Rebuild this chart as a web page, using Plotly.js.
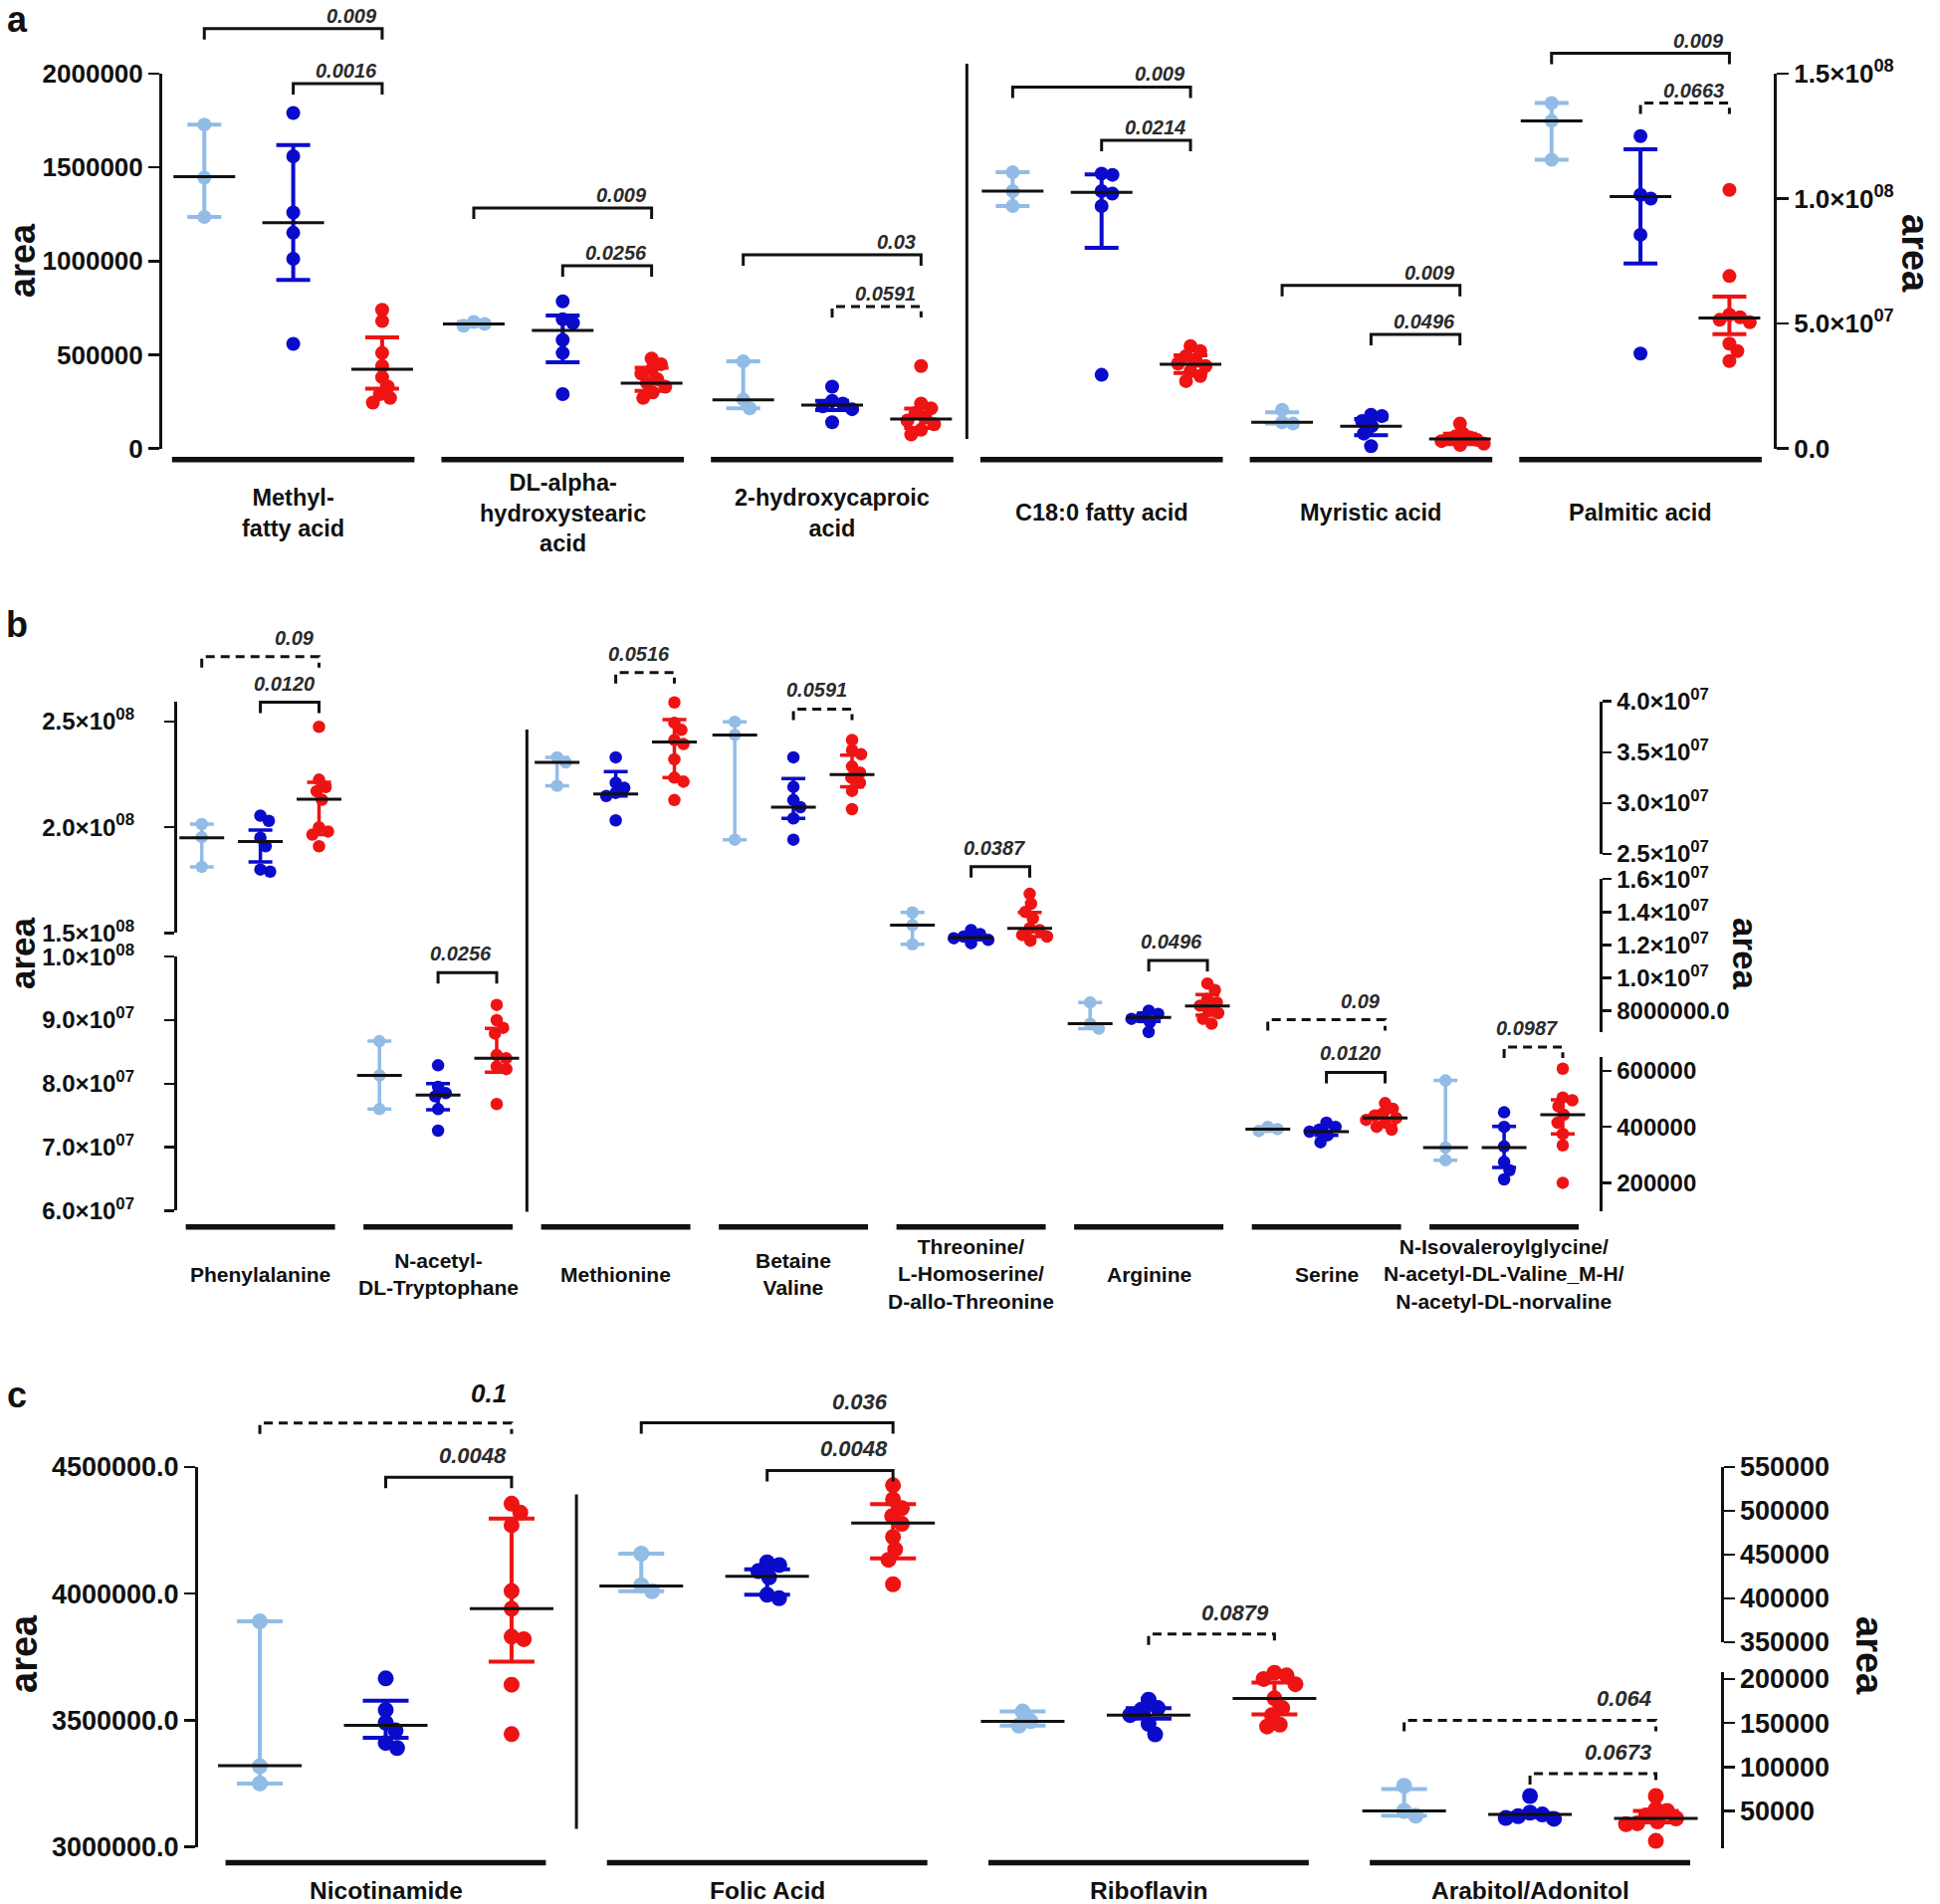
<!DOCTYPE html>
<html>
<head>
<meta charset="utf-8">
<script src="https://cdn.plot.ly/plotly-3.0.1.min.js"></script>
<style>
html,body{margin:0;padding:0;background:#fff;}
#chart{width:1949px;height:1913px;}
</style>
</head>
<body>
<div id="chart"></div>
<script>
// ===================== DATA =====================
const panelLetters = ['a', 'b', 'c'];
const axisTitle = 'area';

// ---- panel a ----
const aCategories = ['Methyl-<br>fatty acid', 'DL-alpha-<br>hydroxystearic<br>acid', '2-hydroxycaproic<br>acid', 'C18:0 fatty acid', 'Myristic acid', 'Palmitic acid'];
const aScaleOf = ['L', 'L', 'L', 'R', 'R', 'R'];
const aLight = [
  [1728000, 1445000, 1235000],
  [675000, 665000, 655000],
  [465000, 262000, 215000],
  [1.105e8, 1.03e8, 9.7e7],
  [1.55e7, 1.05e7, 1.0e7],
  [1.382e8, 1.311e8, 1.155e8]
];
const aBlue = [
  [1790000, 1559000, 1259000, 1151000, 1012000, 558000],
  [785000, 690000, 670000, 580000, 510000, 290000],
  [330000, 255000, 240000, 225000, 210000, 140000],
  [1.10e8, 1.095e8, 1.03e8, 1.02e8, 9.7e7, 2.95e7],
  [1.35e7, 1.3e7, 1.1e7, 9e6, 6e6, 1e6],
  [1.25e8, 1.015e8, 1.0e8, 8.55e7, 3.8e7]
];
const aRed = [
  [740000, 680000, 510000, 440000, 380000, 330000, 290000, 270000, 245000],
  [480000, 450000, 420000, 400000, 370000, 350000, 330000, 300000, 270000],
  [440000, 240000, 215000, 190000, 165000, 150000, 130000, 100000, 75000],
  [4.1e7, 3.9e7, 3.7e7, 3.5e7, 3.4e7, 3.3e7, 3.1e7, 2.9e7, 2.7e7],
  [1.0e7, 6e6, 5e6, 4.5e6, 4e6, 3.5e6, 3e6, 2e6, 1.5e6],
  [1.035e8, 6.9e7, 5.35e7, 5.25e7, 5.15e7, 5.05e7, 4.2e7, 3.9e7, 3.5e7]
];
// [median, lower, upper]
const aLightStats = [[1450000, 1235000, 1728000], [665000, 655000, 675000], [260000, 215000, 465000], [1.03e8, 9.7e7, 1.105e8], [1.05e7, 1.0e7, 1.45e7], [1.311e8, 1.155e8, 1.382e8]];
const aBlueStats = [[1204000, 900000, 1619000], [630000, 460000, 709000], [232000, 205000, 255000], [1.025e8, 8.03e7, 1.097e8], [8.9e6, 5.4e6, 1.18e7], [1.008e8, 7.4e7, 1.197e8]];
const aRedStats = [[423000, 320000, 593000], [349000, 308000, 431000], [157000, 110000, 213000], [3.37e7, 3.02e7, 3.73e7], [3.9e6, 1.8e6, 6e6], [5.22e7, 4.58e7, 6.08e7]];
// [category, fromGroup, toGroup, height, p-value, dashed]
const aBrackets = [
  [0, 0, 2, 2240000, '0.009', false],
  [0, 1, 2, 1946000, '0.0016', false],
  [1, 0, 2, 1283000, '0.009', false],
  [1, 1, 2, 975000, '0.0256', false],
  [2, 0, 2, 1033000, '0.03', false],
  [2, 1, 2, 757000, '0.0591', true],
  [3, 0, 2, 1.446e8, '0.009', false],
  [3, 1, 2, 1.233e8, '0.0214', false],
  [4, 0, 2, 6.53e7, '0.009', false],
  [4, 1, 2, 4.57e7, '0.0496', false],
  [5, 0, 2, 1.581e8, '0.009', false],
  [5, 1, 2, 1.382e8, '0.0663', true]
];
const aLeftTicks = [0, 500000, 1000000, 1500000, 2000000];
const aLeftTickText = ['0', '500000', '1000000', '1500000', '2000000'];
const aRightTicks = [0, 5e7, 1e8, 1.5e8];
const aRightTickText = ['0.0', '5.0×10<sup>07</sup>', '1.0×10<sup>08</sup>', '1.5×10<sup>08</sup>'];

// ---- panel b ----
const bCategories = ['Phenylalanine', 'N-acetyl-<br>DL-Tryptophane', 'Methionine', 'Betaine<br>Valine', 'Threonine/<br>L-Homoserine/<br>D-allo-Threonine', 'Arginine', 'Serine', 'N-Isovaleroylglycine/<br>N-acetyl-DL-Valine_M-H/<br>N-acetyl-DL-norvaline'];
const bScaleOf = ['LU', 'LL', 'RT', 'RT', 'RM', 'RM', 'RB', 'RB'];
const bLight = [
  [2.015e8, 1.953e8, 1.813e8],
  [8.67e7, 8.13e7, 7.6e7],
  [3.45e7, 3.4e7, 3.17e7],
  [3.8e7, 3.67e7, 2.64e7],
  [1.397e7, 1.32e7, 1.203e7],
  [8.5e6, 7.2e6, 6.9e6],
  [400000, 392000, 385000],
  [566000, 326000, 281000]
];
const bBlue = [
  [2.055e8, 2.03e8, 1.95e8, 1.91e8, 1.8e8, 1.79e8],
  [8.29e7, 7.95e7, 7.85e7, 7.8e7, 7.6e7, 7.26e7],
  [3.45e7, 3.2e7, 3.15e7, 3.1e7, 3.07e7, 2.83e7],
  [3.45e7, 3.16e7, 3.03e7, 2.96e7, 2.85e7, 2.64e7],
  [1.29e7, 1.265e7, 1.25e7, 1.24e7, 1.23e7, 1.21e7],
  [8.0e6, 7.8e6, 7.6e6, 7.5e6, 7.3e6, 6.7e6],
  [415000, 400000, 390000, 383000, 370000, 345000],
  [452000, 400000, 330000, 275000, 245000, 212000]
];
const bRed = [
  [2.475e8, 2.225e8, 2.19e8, 2.17e8, 2.13e8, 2.0e8, 1.98e8, 1.965e8, 1.91e8],
  [9.24e7, 9.0e7, 8.88e7, 8.79e7, 8.45e7, 8.4e7, 8.27e7, 8.23e7, 7.68e7],
  [3.99e7, 3.79e7, 3.72e7, 3.62e7, 3.58e7, 3.43e7, 3.25e7, 3.21e7, 3.03e7],
  [3.62e7, 3.52e7, 3.48e7, 3.36e7, 3.3e7, 3.25e7, 3.2e7, 3.12e7, 2.94e7],
  [1.51e7, 1.45e7, 1.4e7, 1.36e7, 1.3e7, 1.29e7, 1.26e7, 1.25e7, 1.225e7],
  [9.65e6, 9.25e6, 8.7e6, 8.5e6, 8.3e6, 8.0e6, 7.85e6, 7.5e6, 7.2e6],
  [485000, 465000, 450000, 440000, 432000, 425000, 415000, 400000, 390000],
  [608000, 505000, 495000, 473000, 443000, 415000, 375000, 334000, 200000]
];
const bLightStats = [[1.95e8, 1.813e8, 2.015e8], [8.13e7, 7.6e7, 8.67e7], [3.4e7, 3.17e7, 3.45e7], [3.67e7, 2.64e7, 3.8e7], [1.32e7, 1.203e7, 1.397e7], [7.2e6, 6.9e6, 8.5e6], [392000, 385000, 400000], [326000, 281000, 566000]];
const bBlueStats = [[1.932e8, 1.836e8, 1.987e8], [7.82e7, 7.59e7, 8.0e7], [3.09e7, 3.07e7, 3.31e7], [2.96e7, 2.85e7, 3.24e7], [1.244e7, 1.23e7, 1.26e7], [7.58e6, 7.35e6, 7.85e6], [383000, 370000, 400000], [326000, 255000, 402000]];
const bRedStats = [[2.133e8, 1.965e8, 2.212e8], [8.4e7, 8.18e7, 8.87e7], [3.6e7, 3.25e7, 3.82e7], [3.28e7, 3.16e7, 3.47e7], [1.3e7, 1.25e7, 1.397e7], [8.28e6, 7.72e6, 8.97e6], [432000, 408000, 456000], [443000, 375000, 497000]];
const bBrackets = [
  [0, 0, 2, 2.807e8, '0.09', true],
  [0, 1, 2, 2.591e8, '0.0120', false],
  [1, 1, 2, 9.75e7, '0.0256', false],
  [2, 1, 2, 4.284e7, '0.0516', true],
  [3, 1, 2, 3.924e7, '0.0591', true],
  [4, 1, 2, 1.675e7, '0.0387', false],
  [5, 1, 2, 1.105e7, '0.0496', false],
  [6, 0, 2, 783000, '0.09', true],
  [6, 1, 2, 595000, '0.0120', false],
  [7, 1, 2, 685000, '0.0987', true]
];
const bLeftUpperTicks = [1.5e8, 2e8, 2.5e8];
const bLeftUpperTickText = ['1.5×10<sup>08</sup>', '2.0×10<sup>08</sup>', '2.5×10<sup>08</sup>'];
const bLeftLowerTicks = [6e7, 7e7, 8e7, 9e7, 1e8];
const bLeftLowerTickText = ['6.0×10<sup>07</sup>', '7.0×10<sup>07</sup>', '8.0×10<sup>07</sup>', '9.0×10<sup>07</sup>', '1.0×10<sup>08</sup>'];
const bRightTopTicks = [2.5e7, 3e7, 3.5e7, 4e7];
const bRightTopTickText = ['2.5×10<sup>07</sup>', '3.0×10<sup>07</sup>', '3.5×10<sup>07</sup>', '4.0×10<sup>07</sup>'];
const bRightMidTicks = [8e6, 1e7, 1.2e7, 1.4e7, 1.6e7];
const bRightMidTickText = ['8000000.0', '1.0×10<sup>07</sup>', '1.2×10<sup>07</sup>', '1.4×10<sup>07</sup>', '1.6×10<sup>07</sup>'];
const bRightBottomTicks = [200000, 400000, 600000];
const bRightBottomTickText = ['200000', '400000', '600000'];

// ---- panel c ----
const cCategories = ['Nicotinamide', 'Folic Acid', 'Riboflavin', 'Arabitol/Adonitol'];
const cScaleOf = ['L', 'RT', 'RB', 'RB'];
const cLight = [
  [3.89e6, 3.318e6, 3.25e6],
  [451000, 415000, 408000],
  [163000, 152000, 147000],
  [78600, 50000, 44600]
];
const cBlue = [
  [3.665e6, 3.54e6, 3.49e6, 3.46e6, 3.41e6, 3.39e6],
  [441000, 438000, 431000, 424000, 404000, 400000],
  [176500, 167000, 165000, 159000, 149000, 137000],
  [67000, 48000, 46000, 44000, 42000, 41000]
];
const cRed = [
  [4.355e6, 4.32e6, 4.27e6, 4.01e6, 3.94e6, 3.83e6, 3.82e6, 3.64e6, 3.445e6],
  [529000, 513000, 503000, 494000, 485000, 470000, 456000, 444000, 416000],
  [207000, 204000, 200000, 194000, 178000, 167000, 159000, 148000, 146000],
  [67000, 52000, 50000, 45000, 41500, 38000, 36000, 35000, 16000]
];
const cLightStats = [[3.32e6, 3.25e6, 3.89e6], [414000, 408000, 451000], [151800, 147000, 163000], [50000, 44600, 75000]];
const cBlueStats = [[3.48e6, 3.43e6, 3.577e6], [425000, 404000, 433000], [158900, 155000, 166700], [46000, 43000, 47500]];
const cRedStats = [[3.94e6, 3.731e6, 4.296e6], [486000, 445600, 507500], [177700, 159700, 196000], [41500, 37000, 50000]];
const cBrackets = [
  [0, 0, 2, 4.674e6, '0.1', true],
  [0, 1, 2, 4.459e6, '0.0048', false],
  [1, 0, 2, 600400, '0.036', false],
  [1, 1, 2, 546000, '0.0048', false],
  [2, 1, 2, 251000, '0.0879', true],
  [3, 0, 2, 153000, '0.064', true],
  [3, 1, 2, 92400, '0.0673', true]
];
const cLeftTicks = [3e6, 3.5e6, 4e6, 4.5e6];
const cLeftTickText = ['3000000.0', '3500000.0', '4000000.0', '4500000.0'];
const cRightTopTicks = [350000, 400000, 450000, 500000, 550000];
const cRightTopTickText = ['350000', '400000', '450000', '500000', '550000'];
const cRightBottomTicks = [50000, 100000, 150000, 200000];
const cRightBottomTickText = ['50000', '100000', '150000', '200000'];

// ===================== BUILD =====================
const W = 1949, H = 1913;
const FONT = '"Liberation Sans", Arial, Helvetica, sans-serif';
const GROUP_COLORS = ['#92BCE6', '#0B0BCB', '#EE1414'];
const OFF = [-0.33, 0, 0.33];
const INK = '#111111';

function lin(v1, p1, v2, p2) {
  const k = (p2 - p1) / (v2 - v1);
  return { k: k, px: v => p1 + (v - v1) * k, val: p => v1 + (p - p1) / k };
}
const pf = p => 1 - p / H;

const traces = [];
const annotations = [];
const shapes = [];
const layout = {
  width: W, height: H,
  margin: { l: 0, r: 0, t: 0, b: 0, pad: 0 },
  paper_bgcolor: '#ffffff', plot_bgcolor: 'rgba(0,0,0,0)',
  showlegend: false, hovermode: false,
  font: { family: FONT, color: INK }
};
let yN = 0;
function nextY() { yN++; return yN === 1 ? 'y' : 'y' + yN; }
function axKey(id) { return id.length === 1 ? id + 'axis' : id[0] + 'axis' + id.slice(1); }

// simple beeswarm: horizontal pixel offsets so dots do not fully overlap
function swarm(py, d, maxSpread) {
  const order = py.map((p, i) => i).sort((a, b) => py[a] - py[b]);
  const placed = [];
  const out = new Array(py.length).fill(0);
  order.forEach(i => {
    const y = py[i];
    const cands = [0];
    placed.forEach(p => {
      const dy = Math.abs(p.y - y);
      if (dy < d) { const dx = Math.sqrt(d * d - dy * dy); cands.push(p.x + dx, p.x - dx); }
    });
    cands.sort((a, b) => (Math.abs(a) - Math.abs(b)) || (b - a));
    let best = 0;
    for (const c of cands) {
      if (placed.every(p => (p.x - c) * (p.x - c) + (p.y - y) * (p.y - y) >= d * d - 0.01)) { best = c; break; }
    }
    placed.push({ x: best, y: y });
    out[i] = best;
  });
  const m = Math.max.apply(null, out.map(Math.abs));
  if (m > maxSpread) return out.map(o => o * maxSpread / m);
  return out;
}

function buildPanel(P) {
  const scaleAxes = {};
  let firstData = null;
  Object.keys(P.scales).forEach(name => {
    const S = P.scales[name];
    const s = lin(S.ref[0], S.ref[1], S.ref[2], S.ref[3]);
    const dataId = nextY();
    const visId = nextY();
    if (!firstData) firstData = dataId;
    layout[axKey(dataId)] = {
      domain: [pf(P.bottom), pf(P.top)],
      range: [s.val(P.bottom), s.val(P.top)],
      visible: false, anchor: P.xId, fixedrange: true
    };
    layout[axKey(visId)] = {
      domain: [pf(S.seg[1]), pf(S.seg[0])],
      range: [s.val(S.seg[1]), s.val(S.seg[0])],
      anchor: 'free', position: S.xpos / W, side: S.side,
      showline: true, linecolor: INK, linewidth: 3,
      ticks: 'outside', ticklen: S.ticklen, tickwidth: 2.5, tickcolor: INK,
      tickmode: 'array', tickvals: S.tickvals, ticktext: S.ticktext,
      tickfont: { family: FONT, size: S.size, color: INK, weight: 'bold' },
      ticklabelstandoff: S.standoff || 0,
      showgrid: false, zeroline: false, fixedrange: true
    };
    traces.push({ x: [0], y: [S.tickvals[0]], xaxis: P.xId, yaxis: visId, mode: 'markers',
      marker: { opacity: 0, size: 1 }, hoverinfo: 'skip', showlegend: false });
    scaleAxes[name] = { s: s, dataId: dataId };
  });
  layout[axKey(P.xId)] = {
    domain: [0, 1], range: [-P.c0 / P.step, (W - P.c0) / P.step],
    visible: false, anchor: firstData, fixedrange: true
  };

  const groups = [P.light, P.blue, P.red];
  const stats = [P.lightStats, P.blueStats, P.redStats];

  // points
  P.categories.forEach((cat, i) => {
    const A = scaleAxes[P.scaleOf[i]];
    groups.forEach((g, gi) => {
      const vals = g[i];
      const offs = swarm(vals.map(A.s.px), P.dot, P.spread);
      traces.push({
        x: vals.map((v, j) => i + OFF[gi] + offs[j] / P.step), y: vals,
        xaxis: P.xId, yaxis: A.dataId, mode: 'markers', cliponaxis: false,
        marker: { size: P.marker, color: GROUP_COLORS[gi], line: { width: 0 } },
        hoverinfo: 'skip', showlegend: false
      });
    });
  });
  // median + interquartile bars
  P.categories.forEach((cat, i) => {
    const A = scaleAxes[P.scaleOf[i]];
    groups.forEach((g, gi) => {
      const st = stats[gi][i];
      traces.push({
        x: [i + OFF[gi]], y: [st[0]], xaxis: P.xId, yaxis: A.dataId, mode: 'markers', cliponaxis: false,
        marker: { symbol: 'line-ew', size: P.medianW / 1.4, color: INK, line: { color: INK, width: 3 } },
        error_y: { type: 'data', symmetric: false, array: [st[2] - st[0]], arrayminus: [st[0] - st[1]],
          color: GROUP_COLORS[gi], thickness: P.errT, width: P.capW },
        hoverinfo: 'skip', showlegend: false
      });
    });
  });
  // significance brackets
  P.brackets.forEach((b, bi) => {
    const ci = b[0], g1 = b[1], g2 = b[2], h = b[3], lab = b[4], dashed = b[5];
    const A = scaleAxes[P.scaleOf[ci]];
    const leg = 11 / Math.abs(A.s.k);
    const x1 = ci + OFF[g1], x2 = ci + OFF[g2];
    traces.push({
      x: [x1, x1, x2, x2], y: [h - leg, h, h, h - leg], xaxis: P.xId, yaxis: A.dataId,
      mode: 'lines', line: { color: INK, width: 3, dash: dashed ? '9px,6px' : 'solid' },
      hoverinfo: 'skip', showlegend: false
    });
    const big = P.pBig && P.pBig[bi];
    annotations.push({
      x: x2, y: h, xref: P.xId, yref: A.dataId, xanchor: 'right', yanchor: 'bottom',
      xshift: -3, yshift: P.pLift + (big ? 6 : 0), showarrow: false, text: lab,
      font: { family: FONT, size: big || P.pSize, style: 'italic', weight: 'bold', color: big ? INK : '#2b2b2b' }
    });
  });
  // category labels + underline bars
  P.categories.forEach((cat, i) => {
    annotations.push({
      x: i, y: pf(P.labelY), xref: P.xId, yref: 'paper', xanchor: 'center', yanchor: 'middle',
      align: 'center', showarrow: false, text: cat,
      font: { family: FONT, size: P.labelSize, weight: 'bold', color: INK }
    });
    shapes.push({ type: 'line', xref: P.xId, yref: 'paper', x0: i - P.half, x1: i + P.half,
      y0: pf(P.underlineY), y1: pf(P.underlineY), line: { color: INK, width: 5.5 } });
  });
  // separator between left/right scales
  shapes.push({ type: 'line', xref: P.xId, yref: 'paper', x0: P.sepX, x1: P.sepX,
    y0: pf(P.sepY[0]), y1: pf(P.sepY[1]), line: { color: INK, width: 3 } });
  // axis titles
  P.titles.forEach(t => {
    annotations.push({ x: t[0] / W, y: pf(t[1]), xref: 'paper', yref: 'paper', xanchor: 'center', yanchor: 'middle',
      textangle: t[2], showarrow: false, text: axisTitle,
      font: { family: FONT, size: t[3], weight: 'bold', color: INK } });
  });
  // panel letter
  annotations.push({ x: P.letterPos[0] / W, y: pf(P.letterPos[1]), xref: 'paper', yref: 'paper',
    xanchor: 'center', yanchor: 'middle', showarrow: false, text: P.letter,
    font: { family: FONT, size: 36, weight: 'bold', color: INK } });
}

buildPanel({
  letter: panelLetters[0], letterPos: [17, 20],
  xId: 'x', c0: 294.6, step: 270.7, top: 0, bottom: 478,
  half: 0.45, underlineY: 461.7, sepX: 2.5, sepY: [64, 441],
  labelY: 515, labelSize: 23.5, pSize: 20, pLift: 0, medianW: 62, capW: 17, errT: 4, marker: 14, dot: 11, spread: 24,
  categories: aCategories, scaleOf: aScaleOf, light: aLight, blue: aBlue, red: aRed,
  lightStats: aLightStats, blueStats: aBlueStats, redStats: aRedStats, brackets: aBrackets,
  titles: [[22, 262, -90, 36], [1924, 254, 90, 38]],
  scales: {
    L: { ref: [0, 450.7, 2e6, 73.9], seg: [73.9, 450.7], xpos: 161, side: 'left', tickvals: aLeftTicks, ticktext: aLeftTickText, size: 26, ticklen: 11 },
    R: { ref: [0, 450.7, 1.5e8, 73.9], seg: [73.9, 450.7], xpos: 1783, side: 'right', tickvals: aRightTicks, ticktext: aRightTickText, size: 26, ticklen: 12 }
  }
});

buildPanel({
  letter: panelLetters[1], letterPos: [17, 628],
  xId: 'x2', c0: 261.6, step: 178.5, top: 600, bottom: 1245,
  half: 0.42, underlineY: 1232.7, sepX: 1.5, sepY: [733, 1217.4],
  labelY: 1280, labelSize: 21, pSize: 20, pLift: 6, medianW: 45, capW: 12, errT: 3.5, marker: 12.5, dot: 10, spread: 19,
  categories: bCategories, scaleOf: bScaleOf, light: bLight, blue: bBlue, red: bRed,
  lightStats: bLightStats, blueStats: bBlueStats, redStats: bRedStats, brackets: bBrackets,
  titles: [[22, 958, -90, 35], [1754, 958, 90, 35]],
  scales: {
    LU: { ref: [1.5e8, 937.4, 2.5e8, 724.9], seg: [704.7, 937.4], xpos: 175.8, side: 'left', tickvals: bLeftUpperTicks, ticktext: bLeftUpperTickText, size: 24, ticklen: 10, standoff: 25 },
    LL: { ref: [6e7, 1216.4, 1e8, 961.2], seg: [961.2, 1216.4], xpos: 175.8, side: 'left', tickvals: bLeftLowerTicks, ticktext: bLeftLowerTickText, size: 24, ticklen: 10, standoff: 25 },
    RT: { ref: [2.5e7, 858, 4e7, 704.7], seg: [704.7, 858], xpos: 1608.4, side: 'right', tickvals: bRightTopTicks, ticktext: bRightTopTickText, size: 24, ticklen: 9 },
    RM: { ref: [8e6, 1015.4, 1.6e7, 883.2], seg: [883.2, 1037], xpos: 1608.4, side: 'right', tickvals: bRightMidTicks, ticktext: bRightMidTickText, size: 24, ticklen: 9 },
    RB: { ref: [2e5, 1188.4, 6e5, 1076], seg: [1062.2, 1217.4], xpos: 1608.4, side: 'right', tickvals: bRightBottomTicks, ticktext: bRightBottomTickText, size: 24, ticklen: 9 }
  }
});

buildPanel({
  letter: panelLetters[2], letterPos: [17, 1401],
  xId: 'x3', c0: 387.5, step: 383.2, top: 1370, bottom: 1885,
  half: 0.42, underlineY: 1871.5, sepX: 0.5, sepY: [1501.6, 1837.5],
  labelY: 1899, labelSize: 24.5, pSize: 22, pLift: 7, pBig: { 0: 26 }, medianW: 84, capW: 23, errT: 4, marker: 16, dot: 12.5, spread: 30,
  categories: cCategories, scaleOf: cScaleOf, light: cLight, blue: cBlue, red: cRed,
  lightStats: cLightStats, blueStats: cBlueStats, redStats: cRedStats, brackets: cBrackets,
  titles: [[24, 1662, -90, 38], [1878, 1663, 90, 38]],
  scales: {
    L: { ref: [3e6, 1855.5, 4.5e6, 1473.9], seg: [1473.9, 1855.5], xpos: 197, side: 'left', tickvals: cLeftTicks, ticktext: cLeftTickText, size: 27, ticklen: 11 },
    RT: { ref: [3.5e5, 1649.8, 5.5e5, 1473.9], seg: [1473.9, 1649.8], xpos: 1729.5, side: 'right', tickvals: cRightTopTicks, ticktext: cRightTopTickText, size: 27, ticklen: 11 },
    RB: { ref: [5e4, 1819.5, 2e5, 1686.9], seg: [1680, 1856.5], xpos: 1729.5, side: 'right', tickvals: cRightBottomTicks, ticktext: cRightBottomTickText, size: 27, ticklen: 11 }
  }
});

layout.annotations = annotations;
layout.shapes = shapes;

Plotly.newPlot('chart', traces, layout, { staticPlot: true, displayModeBar: false, responsive: false });
</script>
</body>
</html>
